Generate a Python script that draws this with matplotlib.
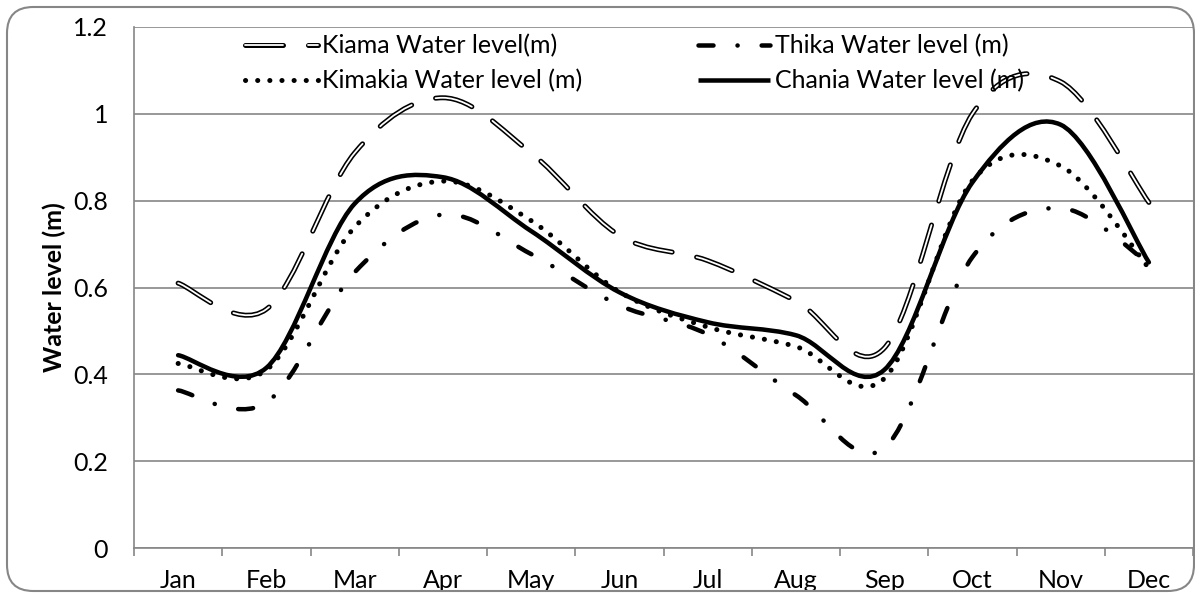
import matplotlib
matplotlib.use('Agg')
import matplotlib.pyplot as plt
from matplotlib.path import Path
from matplotlib.patches import PathPatch, Rectangle, FancyBboxPatch
from matplotlib.lines import Line2D
from matplotlib.legend_handler import HandlerTuple

# Data
months = ['Jan', 'Feb', 'Mar', 'Apr', 'May', 'Jun', 'Jul', 'Aug', 'Sep', 'Oct', 'Nov', 'Dec']
kiama = [0.61, 0.55, 0.91, 1.037, 0.91, 0.72, 0.662, 0.569, 0.46, 1.00, 1.074, 0.796]
thika = [0.363, 0.335, 0.635, 0.768, 0.677, 0.559, 0.492, 0.352, 0.23, 0.67, 0.783, 0.655]
kimakia = [0.425, 0.41, 0.739, 0.845, 0.754, 0.59, 0.509, 0.464, 0.39, 0.846, 0.88, 0.645]
chania = [0.444, 0.415, 0.793, 0.854, 0.73, 0.589, 0.52, 0.49, 0.41, 0.842, 0.975, 0.658]
yticks = [0, 0.2, 0.4, 0.6, 0.8, 1, 1.2]
ytick_labels = ['0', '0.2', '0.4', '0.6', '0.8', '1', '1.2']

plt.rcParams['font.family'] = ['Lato', 'DejaVu Sans']
plt.rcParams['lines.scale_dashes'] = False

PX = 0.72  # points per pixel at dpi 100
GREY = '#868686'
FS = 18


# Excel style smoothed line: bezier segments through the data points
def smooth_path(ys):
    pts = [(i, y) for i, y in enumerate(ys)]
    n = len(pts)
    verts = [pts[0]]
    codes = [Path.MOVETO]
    for i in range(n - 1):
        p0 = pts[max(i - 1, 0)]
        p1 = pts[i]
        p2 = pts[i + 1]
        p3 = pts[min(i + 2, n - 1)]
        c1 = (p1[0] + (p2[0] - p0[0]) / 6, p1[1] + (p2[1] - p0[1]) / 6)
        c2 = (p2[0] - (p3[0] - p1[0]) / 6, p2[1] - (p3[1] - p1[1]) / 6)
        verts += [c1, c2, p2]
        codes += [Path.CURVE4] * 3
    return Path(verts, codes)


def draw(ax, ys, **kw):
    patch = PathPatch(smooth_path(ys), fill=False, capstyle='round', joinstyle='round', **kw)
    ax.add_patch(patch)


fig = plt.figure(figsize=(11.95, 5.94), dpi=100)
ax = fig.add_axes([134 / 1195, 46 / 594, 1059 / 1195, 521 / 594])

kiama_dash = (0, (38 * PX, 25 * PX))
thika_dash = (0, (15 * PX, 24 * PX, 0.1, 24 * PX))
kimakia_dash = (0, (0.1, 12 * PX))

draw(ax, kiama, edgecolor='black', lw=5 * PX, linestyle=kiama_dash, zorder=3)
draw(ax, kiama, edgecolor='white', lw=1.8 * PX, linestyle=kiama_dash, zorder=3.1)
draw(ax, thika, edgecolor='black', lw=4.5 * PX, linestyle=thika_dash, zorder=4)
draw(ax, kimakia, edgecolor='black', lw=5 * PX, linestyle=kimakia_dash, zorder=5)
draw(ax, chania, edgecolor='black', lw=4.5 * PX, linestyle='-', zorder=6)

ax.set_xlim(-0.5, len(months) - 0.5)
ax.set_ylim(0, 1.2)

for s in ['top', 'right']:
    ax.spines[s].set_visible(False)
for s in ['left', 'bottom']:
    ax.spines[s].set_color(GREY)
    ax.spines[s].set_linewidth(1.2)

ax.set_yticks(yticks)
ax.set_yticklabels(ytick_labels)
ax.yaxis.grid(True, color=GREY, lw=1.2)
ax.set_axisbelow(True)
ax.tick_params(axis='y', length=0, pad=26 * PX, labelsize=FS)

ax.set_xticks([i - 0.5 for i in range(len(months) + 1)])
ax.set_xticklabels([])
ax.set_xticks(range(len(months)), minor=True)
ax.set_xticklabels(months, minor=True)
ax.tick_params(axis='x', which='major', length=8 * PX, color=GREY, width=1.2, direction='out')
ax.tick_params(axis='x', which='minor', length=0, pad=21 * PX, labelsize=FS)

ax.set_ylabel('Water level (m)', fontsize=FS, fontweight='bold')
ax.yaxis.set_label_coords(-0.064, 0.5)

# legend proxies
h_kiama = (Line2D([], [], color='black', lw=5 * PX, linestyle=kiama_dash, solid_capstyle='round', dash_capstyle='round'),
           Line2D([], [], color='white', lw=1.8 * PX, linestyle=kiama_dash, solid_capstyle='round', dash_capstyle='round'))
h_thika = Line2D([], [], color='black', lw=4.5 * PX, linestyle=thika_dash, dash_capstyle='round')
h_kimakia = Line2D([], [], color='black', lw=5 * PX, linestyle=kimakia_dash, dash_capstyle='round')
h_chania = Line2D([], [], color='black', lw=4.5 * PX, linestyle='-', solid_capstyle='butt')

fig.legend([h_kiama, h_kimakia, h_thika, h_chania],
           ['Kiama Water level(m)', 'Kimakia Water level (m)',
            'Thika Water level (m)', 'Chania Water level (m)'],
           handler_map={tuple: HandlerTuple(ndivide=1)},
           ncol=2, loc='upper left', bbox_to_anchor=(245 / 1195, 1 - 34 / 594),
           frameon=False, fontsize=FS, handlelength=2.9, handletextpad=0.2,
           columnspacing=4.6, labelspacing=0.48, borderpad=0, borderaxespad=0)

# chart area border, month labels are cut at its bottom edge
fig.patches.append(Rectangle((0, 0), 1, 3 / 594, transform=fig.transFigure,
                             facecolor='white', edgecolor='none', zorder=5))
fig.patches.append(FancyBboxPatch((7 / 1195, 3 / 594), 1187 / 1195, 584 / 594,
                                  boxstyle='round,pad=0,rounding_size=0.022',
                                  transform=fig.transFigure, facecolor='none',
                                  edgecolor=GREY, lw=1.5, zorder=6,
                                  mutation_aspect=1195 / 594))

fig.savefig('out.png', dpi=100)
